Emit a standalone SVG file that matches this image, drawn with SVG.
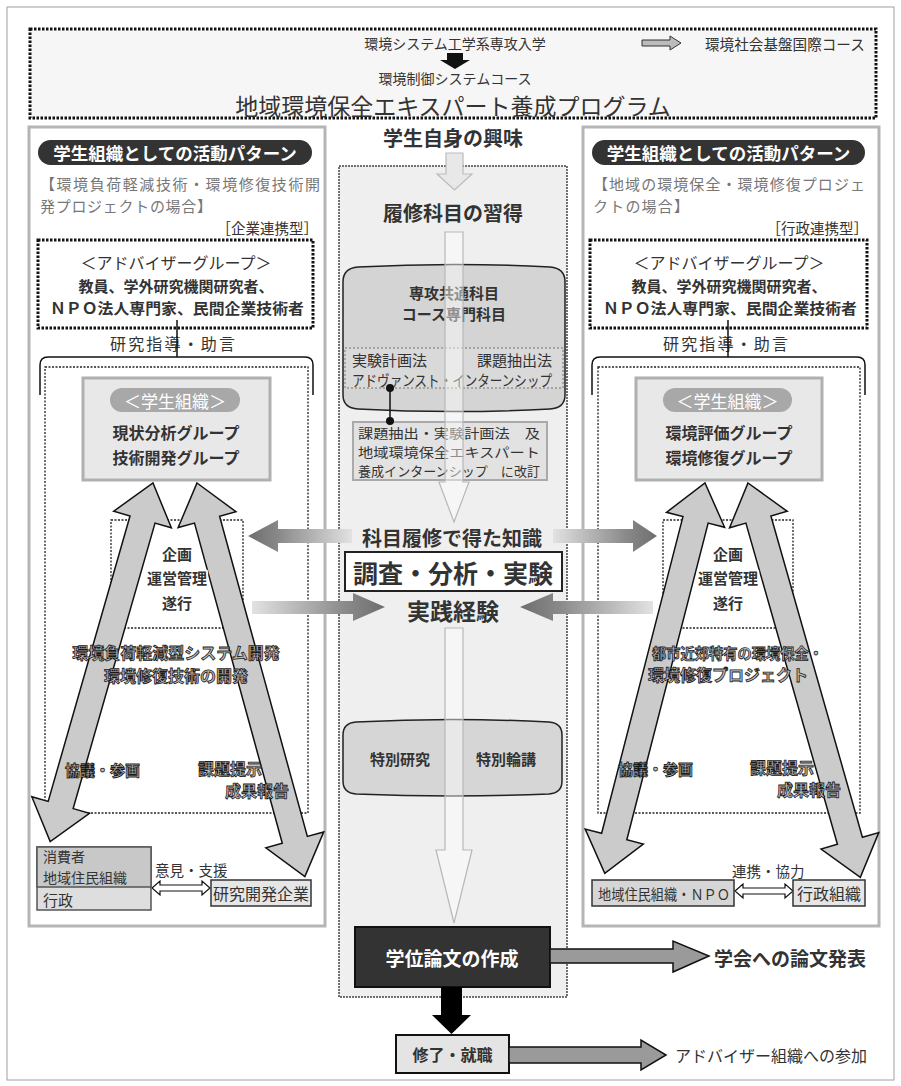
<svg xmlns="http://www.w3.org/2000/svg" width="901" height="1086" viewBox="0 0 901 1086">
<style>
text{font-family:"Noto Sans CJK JP","Noto Sans CJK SC",sans-serif;dominant-baseline:central;fill:#333}
.b{font-weight:700}
.c{text-anchor:middle}
.e{text-anchor:end}
.w{fill:#fff}
.g{fill:#777}
.halo{paint-order:stroke;stroke:#fff;stroke-width:4;stroke-linejoin:round}
.ol{fill:#bdbdbd;stroke:#1a1a1a;stroke-width:0.8;font-weight:700}
.dot{fill:none;stroke:#222;stroke-width:1.3;stroke-dasharray:2 1.5}
.heavy{stroke:#111;stroke-width:3;stroke-dasharray:2.5 1.5}
.panel{fill:#fff;stroke:#b5b5b5;stroke-width:3}
.pill{fill:#333}
.sbox{fill:#e8e8e8;stroke:#b0b0b0;stroke-width:3}
.spill{fill:#a8a8a8}
.bigA{fill:#cbcbcb;stroke:#111;stroke-width:1.5}
.hollow{fill:#fff;stroke:#111;stroke-width:1.2}
.bar{fill:#fff;fill-opacity:0.45;stroke:#b8b8b8;stroke-width:1.2}
.gray{fill:#9a9a9a;stroke:#111;stroke-width:1.5}
.small{fill:#e6e6e6;stroke:#333;stroke-width:1.5}
</style>
<defs>
<linearGradient id="gL" x1="0" y1="0" x2="1" y2="0">
<stop offset="0" stop-color="#6e6e6e"/><stop offset="0.3" stop-color="#8a8a8a"/><stop offset="1" stop-color="#e2e2e2"/>
</linearGradient>
<linearGradient id="gR" x1="0" y1="0" x2="1" y2="0">
<stop offset="0" stop-color="#e2e2e2"/><stop offset="0.7" stop-color="#8a8a8a"/><stop offset="1" stop-color="#6e6e6e"/>
</linearGradient>
</defs>

<rect x="7" y="7" width="887" height="1073" fill="#fff" stroke="#a0a0a0" stroke-width="1"/>

<g id="header">
<rect x="30" y="29" width="846" height="89" fill="#f6f6f6" class="heavy"/>
<text x="455" y="43" class="c" font-size="14">環境システム工学系専攻入学</text>
<polygon points="447,53 463,53 463,60 470,60 455,69 440,60 447,60" fill="#111"/>
<text x="455" y="78" class="c" font-size="14">環境制御システムコース</text>
<text x="453" y="105" class="c" font-size="23" fill="#222">地域環境保全エキスパート養成プログラム</text>
<polygon points="642,40 670,40 670,36 681,43 670,50 670,46 642,46" fill="#bbb" stroke="#333" stroke-width="1"/>
<text x="705" y="43" font-size="14.6">環境社会基盤国際コース</text>
</g>

<g id="left-panel">
<rect x="29" y="127" width="296" height="799" class="panel"/>
<rect x="38" y="140" width="274" height="25" rx="12.5" class="pill"/>
<text x="175" y="152.5" class="c b w" font-size="17.5">学生組織としての活動パターン</text>
<text x="40" y="183" class="g" font-size="15" textLength="280" lengthAdjust="spacing">【環境負荷軽減技術・環境修復技術開</text>
<text x="40" y="205" class="g" font-size="15" textLength="172" lengthAdjust="spacing">発プロジェクトの場合】</text>
<text x="318" y="227" class="e" font-size="14.5" fill="#444">［企業連携型］</text>
<rect x="38" y="240" width="275" height="88" fill="#fff" class="heavy"/>
<text x="176" y="262" class="c" font-size="16" fill="#999">＜アドバイザーグループ＞</text>
<text x="176" y="285" class="c b" font-size="15">教員、学外研究機関研究者、</text>
<text x="50" y="307" class="b" font-size="15" textLength="254" lengthAdjust="spacingAndGlyphs">ＮＰＯ法人専門家、民間企業技術者</text>
<text x="110" y="343" font-size="16" textLength="125" lengthAdjust="spacing">研究指導・助言</text>
<rect x="45" y="367" width="263" height="446" fill="#f7f7f7" class="dot"/>
<rect x="83" y="378" width="187" height="102" class="sbox"/>
<rect x="110" y="388" width="130" height="24" rx="12" class="spill"/>
<text x="175" y="400" class="c w" font-size="17">＜学生組織＞</text>
<text x="176" y="432" class="c b" font-size="16">現状分析グループ</text>
<text x="176" y="457" class="c b" font-size="16">技術開発グループ</text>
<rect x="111" y="520" width="132" height="108" class="dot"/>
</g>

<g id="right-panel">
<rect x="583" y="127" width="296" height="799" class="panel"/>
<rect x="592" y="140" width="273" height="25" rx="12.5" class="pill"/>
<text x="728.5" y="152.5" class="c b w" font-size="17.5">学生組織としての活動パターン</text>
<text x="593" y="183" class="g" font-size="15" textLength="272" lengthAdjust="spacing">【地域の環境保全・環境修復プロジェ</text>
<text x="593" y="205" class="g" font-size="15" textLength="96" lengthAdjust="spacing">クトの場合】</text>
<text x="868" y="227" class="e" font-size="14.5" fill="#444">［行政連携型］</text>
<rect x="590" y="240" width="277" height="88" fill="#fff" class="heavy"/>
<text x="729" y="262" class="c" font-size="16" fill="#999">＜アドバイザーグループ＞</text>
<text x="729" y="285" class="c b" font-size="15">教員、学外研究機関研究者、</text>
<text x="603" y="307" class="b" font-size="15" textLength="254" lengthAdjust="spacingAndGlyphs">ＮＰＯ法人専門家、民間企業技術者</text>
<text x="663" y="343" font-size="16" textLength="125" lengthAdjust="spacing">研究指導・助言</text>
<rect x="598" y="367" width="262" height="446" fill="#f7f7f7" class="dot"/>
<rect x="636" y="378" width="186" height="102" class="sbox"/>
<rect x="663" y="388" width="129" height="24" rx="12" class="spill"/>
<text x="727.5" y="400" class="c w" font-size="17">＜学生組織＞</text>
<text x="729" y="432" class="c b" font-size="16">環境評価グループ</text>
<text x="729" y="457" class="c b" font-size="16">環境修復グループ</text>
<rect x="663" y="520" width="130" height="108" class="dot"/>
</g>

<g id="center-panel">
<rect x="339" y="166" width="228" height="831" fill="#efefef" stroke="#444" stroke-width="1.5" stroke-dasharray="2 1"/>
</g>

<g id="interest">
<text x="453" y="137" class="c b" font-size="20">学生自身の興味</text>
</g>
<g id="courses-title">
<text x="453" y="212" class="c b" font-size="20" fill="#666">履修科目の習得</text>
</g>

<g id="cylinder1">
<path d="M343,282 Q343,268 358,267 Q454,262 550,267 Q565,268 565,282 L565,395 Q565,408 550,409 Q454,414 358,409 Q343,408 343,395 Z" fill="#d4d4d4" stroke="#222" stroke-width="1.5"/>
<text x="454" y="292" class="c b" font-size="15">専攻共通科目</text>
<text x="454" y="313" class="c b" font-size="15">コース専門科目</text>
<rect x="345" y="348" width="218" height="40" fill="#d9d9d9" stroke="#a5a5a5" stroke-width="2" stroke-dasharray="2 2"/>
<text x="352" y="359" font-size="15">実験計画法</text>
<text x="552" y="359" class="e" font-size="15">課題抽出法</text>
<text x="352" y="379" font-size="15" textLength="200" lengthAdjust="spacingAndGlyphs">アドヴァンスト・インターンシップ</text>
</g>

<g id="revised">
<rect x="353" y="422" width="194" height="58" fill="#e2e2e2" stroke="#aaa" stroke-width="2"/>
<text x="358" y="432" font-size="13" textLength="182" lengthAdjust="spacingAndGlyphs">課題抽出・実験計画法　及</text>
<text x="358" y="451" font-size="13" textLength="182" lengthAdjust="spacingAndGlyphs">地域環境保全エキスパート</text>
<text x="358" y="470" font-size="13" textLength="182" lengthAdjust="spacingAndGlyphs">養成インターンシップ　に改訂</text>
</g>

<g id="knowledge">
<text x="452" y="537" class="c b" font-size="20" fill="#444">科目履修で得た知識</text>
</g>
<g id="survey">
<rect x="345" y="552" width="217" height="39" fill="#fff" stroke="#222" stroke-width="2"/>
<text x="453" y="571.5" class="c b" font-size="25">調査・分析・実験</text>
</g>
<g id="practice">
<text x="453" y="610" class="c b" font-size="23" fill="#444">実践経験</text>
</g>

<g id="cylinder2">
<path d="M343,735 Q343,723 356,722 Q452,717 549,722 Q562,723 562,735 L562,781 Q562,793 549,794 Q452,798 356,794 Q343,793 343,781 Z" fill="#d6d6d6" stroke="#222" stroke-width="1.5"/>
<text x="400" y="758" class="c b" font-size="15">特別研究</text>
<text x="506" y="758" class="c b" font-size="15">特別輪講</text>
</g>

<g id="thesis">
<rect x="355" y="927" width="195" height="60" fill="#333" stroke="#111" stroke-width="2"/>
<text x="452" y="957" class="c b w" font-size="19">学位論文の作成</text>
</g>
<g id="presentation">
<text x="714" y="957" class="b" font-size="19" fill="#222">学会への論文発表</text>
</g>
<g id="graduation">
<rect x="396" y="1035" width="113" height="38" fill="#e4e4e4" stroke="#111" stroke-width="2"/>
<text x="452.5" y="1054" class="c b" font-size="16">修了・就職</text>
</g>
<g id="adviser-join">
<text x="675" y="1055" font-size="16">アドバイザー組織への参加</text>
</g>

<g id="connectors">
<polygon points="446,153 463,153 463,174 472,174 454.5,190 437,174 446,174" fill="#e8e8e8" stroke="#bbb" stroke-width="1.2"/>
<polygon points="445,232 463,232 463,482 469,482 454,522 439,482 445,482" class="bar"/>
<polygon points="445,628 463,628 463,850 472,850 454,923 436,850 445,850" class="bar"/>
<line x1="390" y1="388" x2="390" y2="421" stroke="#111" stroke-width="1.5"/>
<circle cx="390" cy="388" r="4" fill="#111"/>
<circle cx="390" cy="421" r="4" fill="#111"/>
<polygon points="248,536 278,520 278,529 352,529 352,543 278,543 278,552" fill="url(#gL)"/>
<polygon points="553,529 633,529 633,520 657,536 633,552 633,543 553,543" fill="url(#gR)"/>
<polygon points="252,601 353,601 353,593 385,607 353,621 353,614 252,614" fill="url(#gR)"/>
<polygon points="520,607 553,593 553,601 653,601 653,614 553,614 553,621" fill="url(#gL)"/>
<line x1="177" y1="320" x2="177" y2="357" stroke="#111" stroke-width="1.5"/>
<path d="M40,395 L40,365 Q40,357 48,357 L305,357 Q313,357 313,365 L313,395" fill="none" stroke="#111" stroke-width="1.5"/>
<line x1="728" y1="320" x2="728" y2="357" stroke="#111" stroke-width="1.5"/>
<path d="M592,395 L592,365 Q592,357 600,357 L857,357 Q865,357 865,365 L865,395" fill="none" stroke="#111" stroke-width="1.5"/>
<polygon transform="translate(153,483) rotate(106)" points="0,0 38,-30 38,-13 335,-13 335,-30 373,0 335,30 335,13 38,13 38,30" class="bigA"/>
<polygon transform="translate(197,483) rotate(74.67)" points="0,0 38,-30 38,-13 370,-13 370,-30 408,0 370,30 370,13 38,13 38,30" class="bigA"/>
<polygon transform="translate(705,483) rotate(104.4)" points="0,0 38,-30 38,-13 365,-13 365,-30 403,0 365,30 365,13 38,13 38,30" class="bigA"/>
<polygon transform="translate(748,483) rotate(74.1)" points="0,0 38,-30 38,-13 372,-13 372,-30 410,0 372,30 372,13 38,13 38,30" class="bigA"/>
<polygon points="152,888 160,881 160,885 202,885 202,881 210,888 202,895 202,891 160,891 160,895" class="hollow"/>
<polygon points="735,891 743,884 743,888 785,888 785,884 793,891 785,898 785,894 743,894 743,898" class="hollow"/>
<polygon points="550,949 673,949 673,941 709,956 673,972 673,963 550,963" class="gray"/>
<polygon points="441,987 462,987 462,1015 471,1015 451.5,1034 432,1015 441,1015" fill="#000"/>
<polygon points="509,1047 641,1047 641,1040 666,1055 641,1070 641,1063 509,1063" class="gray"/>
</g>

<g id="left-plan">
<text x="177" y="553" class="c b halo" font-size="15">企画</text>
<text x="177" y="577" class="c b halo" font-size="15">運営管理</text>
<text x="177" y="602" class="c b halo" font-size="15">遂行</text>
</g>
<g id="left-dev">
<text x="176" y="652" class="c ol" font-size="16">環境負荷軽減型システム開発</text>
<text x="176" y="675" class="c ol" font-size="16">環境修復技術の開発</text>
</g>
<g id="left-labels">
<text x="65" y="769" class="ol" font-size="15">協議・参画</text>
<text x="198" y="768" class="ol" font-size="16">課題提示</text>
<text x="225" y="790" class="ol" font-size="16">成果報告</text>
</g>
<g id="left-consumers">
<rect x="37" y="847" width="114" height="63" fill="#dedede" stroke="#555" stroke-width="1.5"/>
<rect x="37" y="847" width="114" height="40" fill="#c8c8c8" stroke="#555" stroke-width="1.5"/>
<text x="43" y="856" font-size="14">消費者</text>
<text x="43" y="877" font-size="14">地域住民組織</text>
<text x="43" y="899" font-size="15">行政</text>
</g>
<g id="left-support">
<text x="155" y="869" font-size="14.5">意見・支援</text>
</g>
<g id="left-company">
<rect x="211" y="880" width="100" height="26" class="small"/>
<text x="261" y="893" class="c" font-size="16">研究開発企業</text>
</g>

<g id="right-plan">
<text x="728" y="553" class="c b halo" font-size="15">企画</text>
<text x="728" y="577" class="c b halo" font-size="15">運営管理</text>
<text x="728" y="602" class="c b halo" font-size="15">遂行</text>
</g>
<g id="right-project">
<text x="652" y="652" class="ol" font-size="15" textLength="171" lengthAdjust="spacingAndGlyphs">都市近郊特有の環境保全・</text>
<text x="648" y="674" class="ol" font-size="16">環境修復プロジェクト</text>
</g>
<g id="right-labels">
<text x="618" y="768" class="ol" font-size="15">協議・参画</text>
<text x="750" y="767" class="ol" font-size="16">課題提示</text>
<text x="777" y="789" class="ol" font-size="16">成果報告</text>
</g>
<g id="right-npo">
<rect x="592" y="880" width="142" height="26" fill="#d6d6d6" stroke="#333" stroke-width="1.5"/>
<text x="598" y="893" font-size="15" textLength="132" lengthAdjust="spacingAndGlyphs">地域住民組織・ＮＰＯ</text>
</g>
<g id="right-coop">
<text x="732" y="870" font-size="14.5">連携・協力</text>
</g>
<g id="right-gov">
<rect x="793" y="880" width="72" height="26" class="small"/>
<text x="829" y="893" class="c" font-size="16">行政組織</text>
</g>
</svg>
